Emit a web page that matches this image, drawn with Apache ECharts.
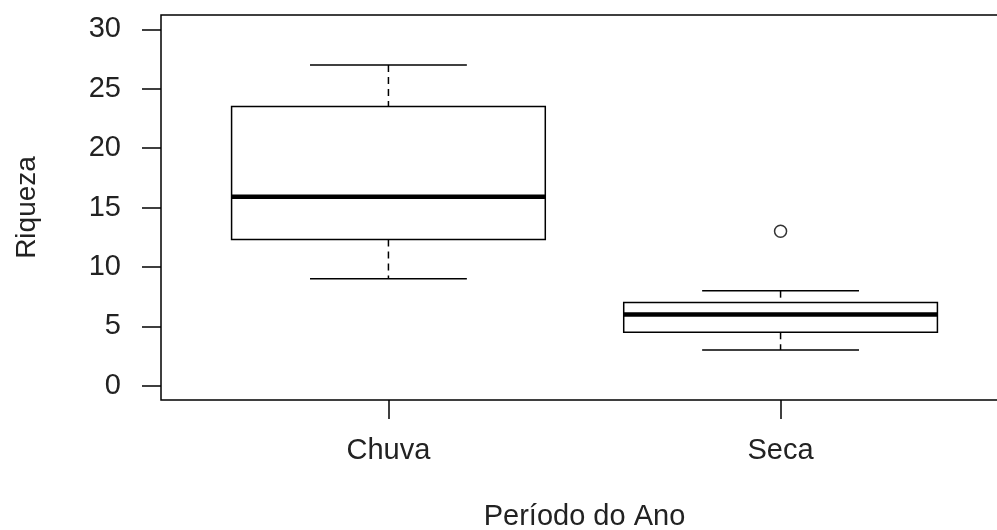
<!DOCTYPE html>
<html>
<head>
<meta charset="utf-8">
<style>html,body{margin:0;padding:0;background:#fff;}#chart{width:997px;height:530px;}</style>
<script src="https://cdn.jsdelivr.net/npm/echarts@6/dist/echarts.min.js"></script>
</head>
<body>
<div id="chart"></div>
<script>
// ---- data ----
const categories = ['Chuva', 'Seca'];
const lowWhisker = [9, 3];
const q1Values = [12.3, 4.5];
const medianValues = [15.9, 6];
const q3Values = [23.5, 7];
const highWhisker = [27, 8];
const outlierCategory = ['Seca'];
const outlierValue = [13];
const yTicks = [0, 5, 10, 15, 20, 25, 30];

// ---- build ----
const boxData = categories.map((c, i) => [i + 1, lowWhisker[i], q1Values[i], medianValues[i], q3Values[i], highWhisker[i]]);
const outlierData = outlierCategory.map((c, i) => [categories.indexOf(c) + 1, outlierValue[i]]);
const catPos = categories.map((c, i) => i + 1);

const FONT = 'Liberation Sans';
const TXT = '#222';
const LW = 1.5;

const chart = echarts.init(document.getElementById('chart'), null, {renderer: 'canvas'});
chart.setOption({
  animation: false,
  backgroundColor: '#fff',
  grid: {
    left: 161, width: 847, top: 15, height: 385,
    outerBoundsMode: 'none',
    containLabel: false,
    show: true, borderColor: '#000', borderWidth: LW, backgroundColor: 'transparent'
  },
  xAxis: {
    type: 'value',
    min: 0.42, max: 2.58,
    name: 'Período do Ano',
    nameLocation: 'middle',
    nameGap: 102,
    nameTextStyle: {fontFamily: FONT, fontSize: 29, color: TXT},
    axisLine: {show: false, onZero: false},
    splitLine: {show: false},
    axisTick: {show: true, length: 19, customValues: catPos, lineStyle: {color: '#000', width: LW}},
    axisLabel: {
      show: true, margin: 36, customValues: catPos,
      fontFamily: FONT, fontSize: 29, color: TXT,
      formatter: v => categories[Math.round(v) - 1] || ''
    }
  },
  yAxis: {
    type: 'value',
    min: -1.2, max: 31.2,
    name: 'Riqueza',
    nameLocation: 'middle',
    nameRotate: 90,
    nameGap: 120,
    nameTextStyle: {fontFamily: FONT, fontSize: 28, color: TXT},
    axisLine: {show: false, onZero: false},
    splitLine: {show: false},
    axisTick: {show: true, length: 19, customValues: yTicks, lineStyle: {color: '#000', width: LW}},
    axisLabel: {
      show: true, margin: 40, customValues: yTicks,
      fontFamily: FONT, fontSize: 29, color: TXT
    }
  },
  series: [
    {
      type: 'custom',
      data: boxData,
      encode: {x: 0, y: [1, 2, 3, 4, 5]},
      renderItem: function (params, api) {
        const x = api.value(0);
        const pLow = api.coord([x, api.value(1)]);
        const pQ1 = api.coord([x, api.value(2)]);
        const pMed = api.coord([x, api.value(3)]);
        const pQ3 = api.coord([x, api.value(4)]);
        const pHigh = api.coord([x, api.value(5)]);
        const cx = pMed[0];
        const halfBox = api.size([0.8, 0])[0] / 2;
        const halfCap = halfBox / 2;
        const solid = {stroke: '#000', lineWidth: LW, fill: null};
        const dashed = {stroke: '#000', lineWidth: LW, lineDash: [7, 5], fill: null};
        return {
          type: 'group',
          children: [
            {type: 'line', shape: {x1: cx, y1: pHigh[1], x2: cx, y2: pQ3[1]}, style: dashed},
            {type: 'line', shape: {x1: cx, y1: pQ1[1], x2: cx, y2: pLow[1]}, style: dashed},
            {type: 'line', shape: {x1: cx - halfCap, y1: pHigh[1], x2: cx + halfCap, y2: pHigh[1]}, style: solid},
            {type: 'line', shape: {x1: cx - halfCap, y1: pLow[1], x2: cx + halfCap, y2: pLow[1]}, style: solid},
            {type: 'rect', shape: {x: cx - halfBox, y: pQ3[1], width: 2 * halfBox, height: pQ1[1] - pQ3[1]}, style: {stroke: '#000', lineWidth: LW, fill: '#fff'}},
            {type: 'line', shape: {x1: cx - halfBox, y1: pMed[1], x2: cx + halfBox, y2: pMed[1]}, style: {stroke: '#000', lineWidth: 4.5}}
          ]
        };
      }
    },
    {
      type: 'scatter',
      data: outlierData,
      symbol: 'circle',
      symbolSize: 12,
      itemStyle: {color: '#fff', borderColor: '#000', borderWidth: LW}
    }
  ]
});
</script>
</body>
</html>
